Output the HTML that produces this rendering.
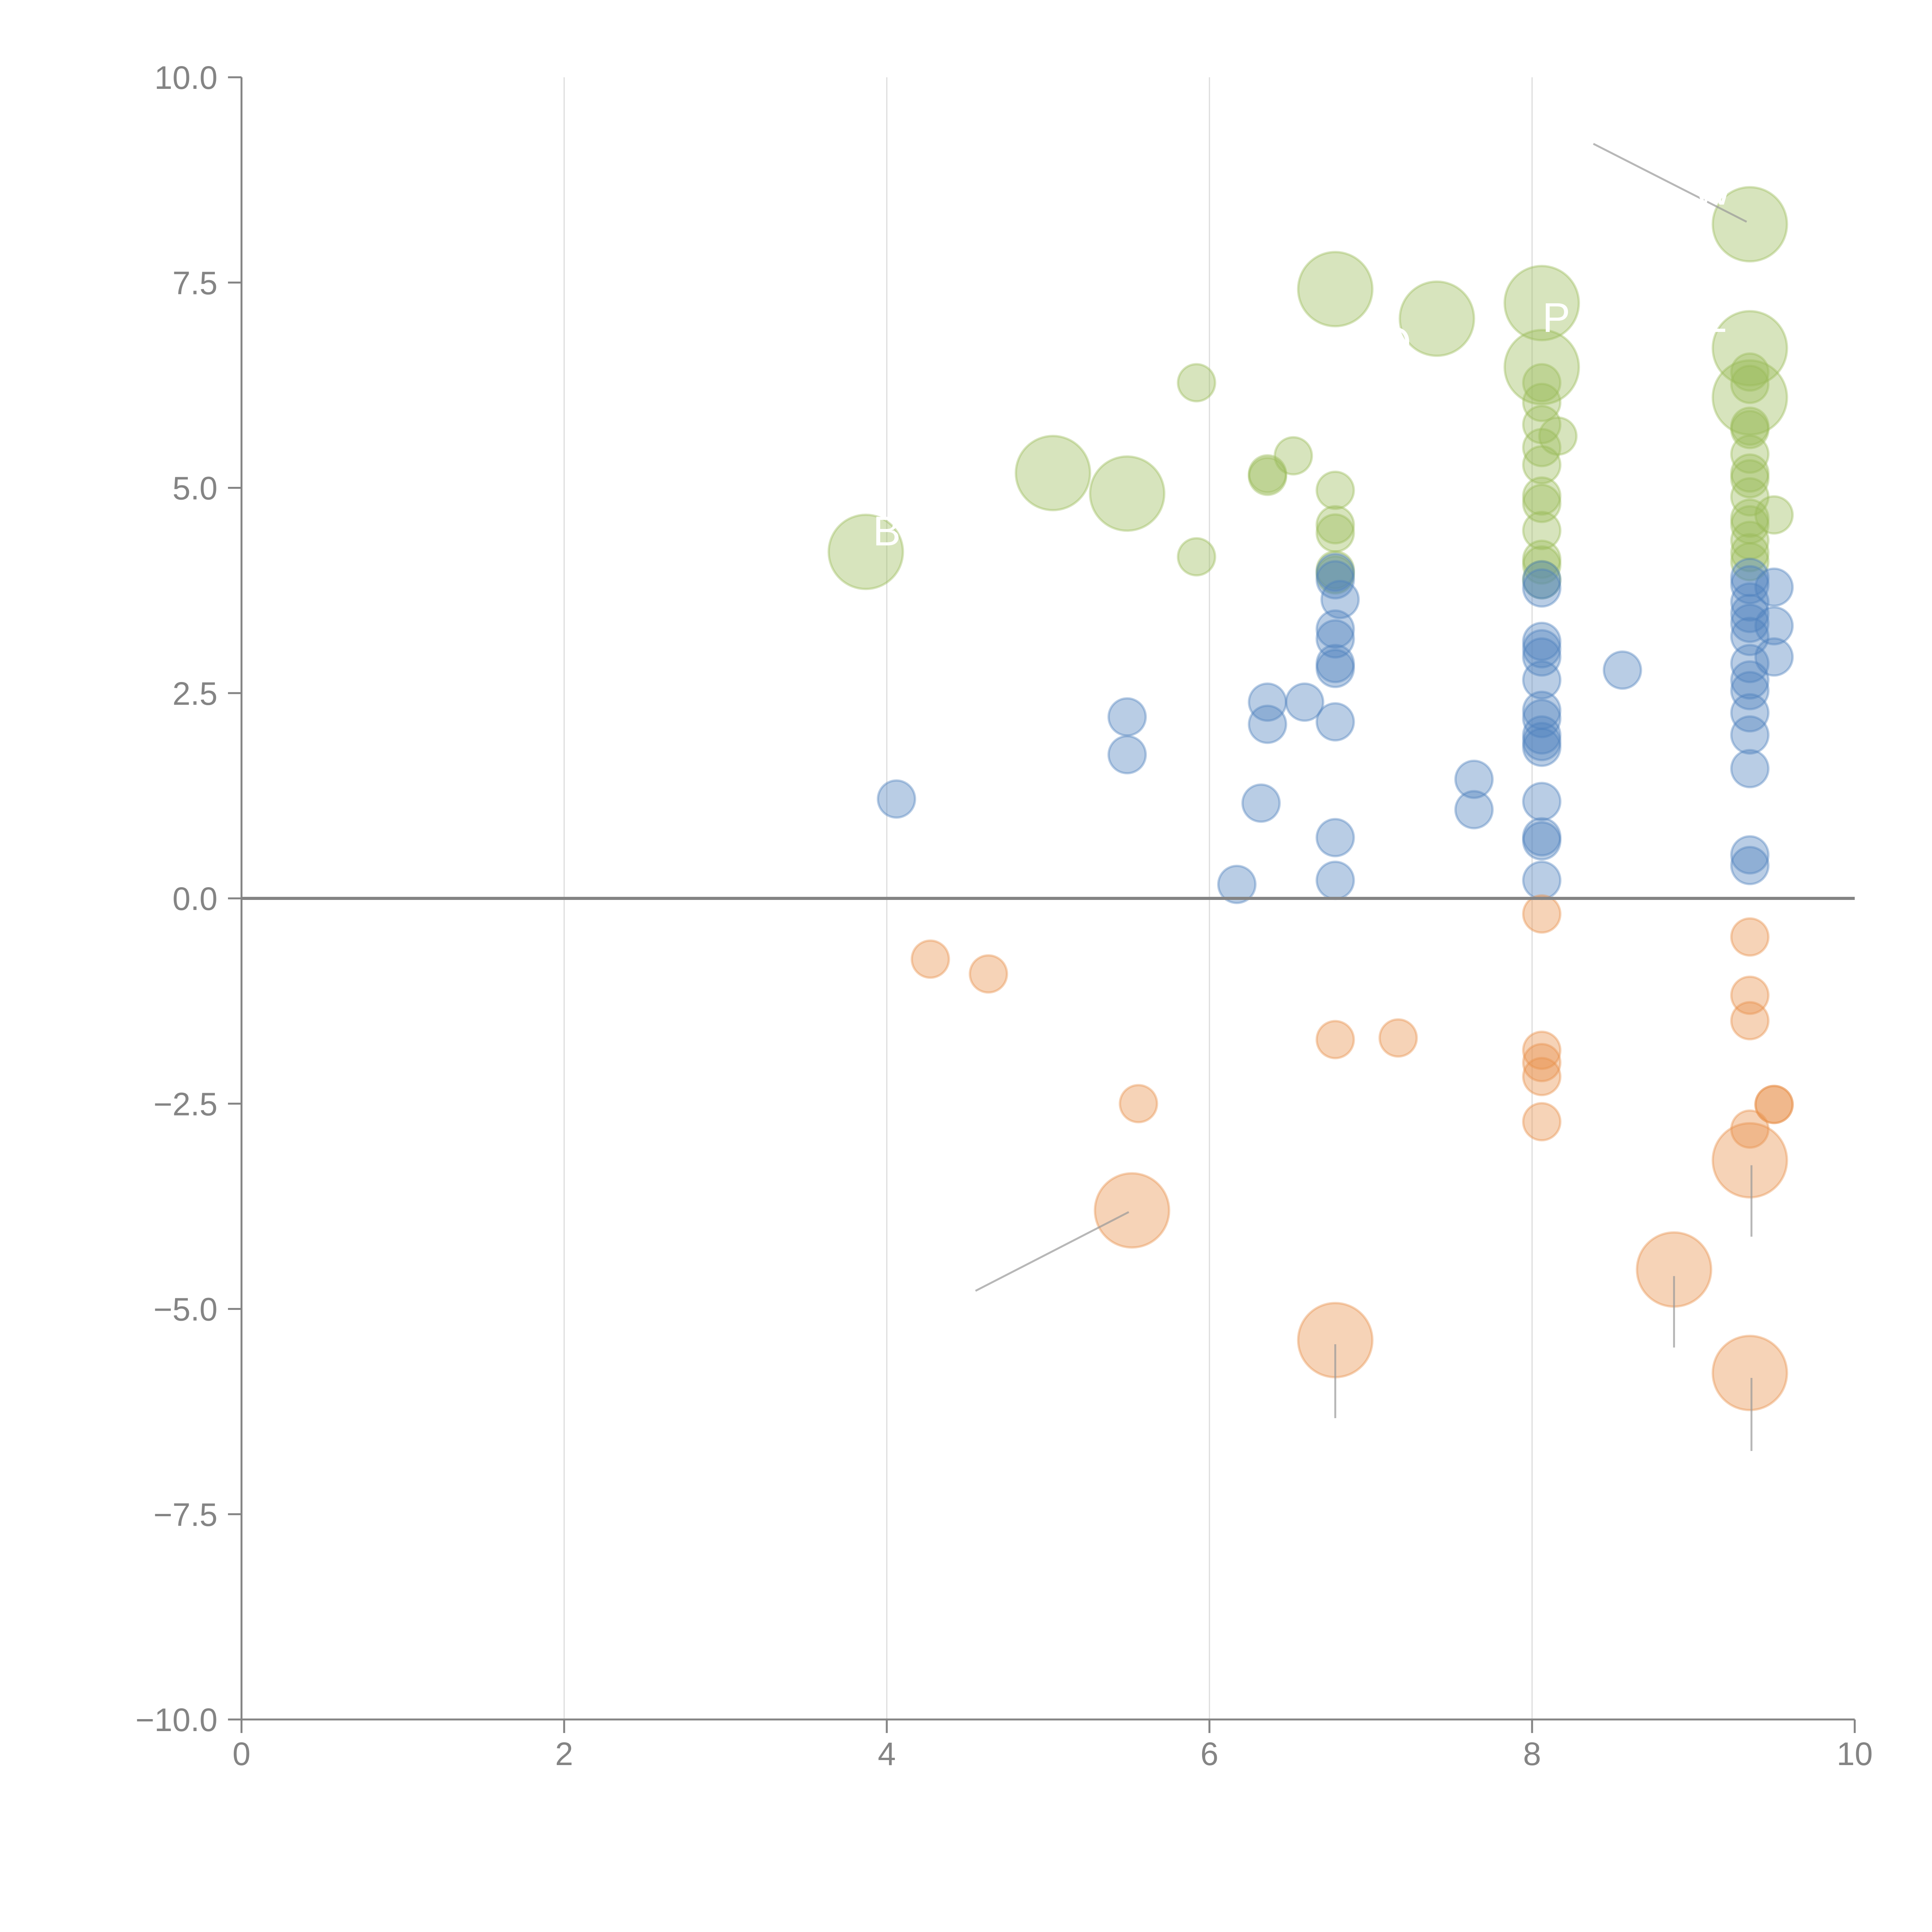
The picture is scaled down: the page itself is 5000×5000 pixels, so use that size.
<!DOCTYPE html>
<html><head><meta charset="utf-8"><style>
html,body{margin:0;padding:0;background:#fff;width:5000px;height:5000px;overflow:hidden}
svg{display:block}
text{font-family:"Liberation Sans",Arial,sans-serif;fill:#848484}
</style></head><body>
<svg id="chart" width="5000" height="5000" viewBox="0 0 5000 5000" xmlns="http://www.w3.org/2000/svg">
<g id="grid"></g>
<g id="marks"></g>
<g id="axes"></g>
</svg>
<script>
const xTicks=[0,2,4,6,8,10];
const yTicks=[10,7.5,5,2.5,0,-2.5,-5,-7.5,-10];
const yTickLabels=["10.0","7.5","5.0","2.5","0.0","\u22122.5","\u22125.0","\u22127.5","\u221210.0"];
const greenBigX=[3.87,5.03,5.49,6.78,7.41,8.06,8.06,9.35,9.35,9.35];
const greenBigY=[4.22,5.18,4.93,7.42,7.06,7.25,6.47,8.21,6.70,6.10];
const greenX=[5.92,6.36,6.36,6.52,5.92,6.78,6.78,6.78,6.78,6.78,8.06,8.06,8.06,8.06,8.06,8.06,8.06,8.06,8.06,8.06,8.06,8.16,9.35,9.35,9.35,9.35,9.35,9.35,9.35,9.35,9.35,9.35,9.35,9.35,9.35,9.50];
const greenY=[6.28,5.17,5.14,5.39,4.16,4.97,4.55,4.45,4.00,3.94,6.28,6.04,5.77,5.49,5.28,4.90,4.81,4.48,4.13,4.06,3.88,5.63,6.41,6.26,5.75,5.71,5.41,5.18,5.11,4.89,4.63,4.55,4.36,4.21,4.10,4.67];
const blueX=[4.06,5.49,5.49,6.36,6.36,6.59,6.32,6.17,6.78,6.78,6.81,6.78,6.78,6.78,6.78,6.78,6.78,6.78,7.64,7.64,8.56,8.06,8.06,8.06,8.06,8.06,8.06,8.06,8.06,8.06,8.06,8.06,8.06,8.06,8.06,8.06,9.35,9.35,9.35,9.35,9.35,9.35,9.35,9.35,9.35,9.35,9.35,9.35,9.35,9.35,9.50,9.50,9.50];
const blueY=[1.21,2.21,1.75,2.39,2.12,2.39,1.16,0.17,3.97,3.88,3.64,3.28,3.16,2.86,2.80,2.15,0.74,0.22,1.45,1.08,2.78,3.88,3.78,3.13,3.04,2.94,2.66,2.29,2.19,1.99,1.91,1.84,1.18,0.75,0.70,0.22,3.91,3.82,3.61,3.47,3.35,3.19,2.86,2.66,2.53,2.26,1.99,1.58,0.53,0.40,3.79,3.32,2.94];
const orangeX=[4.27,4.63,5.56,6.78,7.17,8.06,8.06,8.06,8.06,8.06,9.35,9.35,9.35,9.35,9.50,9.50];
const orangeY=[-0.74,-0.92,-2.50,-1.72,-1.70,-0.19,-1.85,-2.00,-2.17,-2.72,-0.47,-1.18,-1.49,-2.81,-2.51,-2.51];
const orangeBigX=[5.52,6.78,8.88,9.35,9.35];
const orangeBigY=[-3.80,-5.38,-4.52,-3.19,-5.78];
const leaderX1=[8.38,4.55,9.36,8.88,6.78,9.36];
const leaderY1=[9.19,-4.78,-3.25,-4.60,-5.43,-5.84];
const leaderX2=[9.33,5.50,9.36,8.88,6.78,9.36];
const leaderY2=[8.24,-3.82,-4.12,-5.47,-6.33,-6.73];
const labelText=["B","W","P","LE","O"];
const labelX=[4.0,9.12,8.15,9.05,7.15];
const labelY=[4.3,8.45,6.9,6.9,6.6];

const NS="http://www.w3.org/2000/svg";
const X0=625,X1=4800,Y0=4450,Y1=200;
function sx(v){return X0+(v-0)/(10-0)*(X1-X0);}
function sy(v){return Y0-(v+10)/20*(Y0-Y1);}
function mk(tag,attrs,parent){const e=document.createElementNS(NS,tag);for(const k in attrs)e.setAttribute(k,attrs[k]);parent.appendChild(e);return e;}
const grid=document.getElementById('grid'),marks=document.getElementById('marks'),axes=document.getElementById('axes');

xTicks.forEach((t,i)=>{
  if(t>0&&t<10){const l=mk('line',{x1:sx(t),x2:sx(t),y1:Y1,y2:Y0,stroke:'#dcdcdc','stroke-width':3},grid);
  
  }
  const tk=mk('line',{x1:sx(t),x2:sx(t),y1:Y0,y2:Y0+35,stroke:'#848484','stroke-width':5},axes);
  
  
  const tx=mk('text',{x:sx(t),y:Y0+118,'font-size':84,'text-anchor':'middle'},axes);
  tx.textContent=String(t);
  
  
});
yTicks.forEach((t,i)=>{
  const tk=mk('line',{x1:X0-35,x2:X0,y1:sy(t),y2:sy(t),stroke:'#848484','stroke-width':5},axes);
  
  
  const tx=mk('text',{x:X0-62,y:sy(t)+30,'font-size':84,'text-anchor':'end'},axes);
  tx.textContent=yTickLabels[i];
  
  
});
const ya=mk('line',{x1:X0,x2:X0,y1:Y1,y2:Y0,stroke:'#848484','stroke-width':5},axes);


const xa=mk('line',{x1:X0,x2:X1,y1:Y0,y2:Y0,stroke:'#848484','stroke-width':5},axes);



function series(xs,ys,r,color,name){
  xs.forEach((x,i)=>{
    const c=mk('circle',{cx:sx(x),cy:sy(ys[i]),r:r,fill:color,'fill-opacity':0.4,stroke:color,'stroke-opacity':0.4,'stroke-width':6},marks);
    
    
  });
}
series(greenX,greenY,48,'#9bbb59','green-bubble');
series(greenBigX,greenBigY,96,'#9bbb59','green-bubble-large');
series(blueX,blueY,48,'#4f81bd','blue-bubble');
series(orangeX,orangeY,48,'#e8914b','orange-bubble');
series(orangeBigX,orangeBigY,96,'#e8914b','orange-bubble-large');

leaderX1.forEach((x,i)=>{
  const l=mk('line',{x1:sx(x),y1:sy(leaderY1[i]),x2:sx(leaderX2[i]),y2:sy(leaderY2[i]),stroke:'#999','stroke-opacity':0.7,'stroke-width':5},marks);
  
  
});
labelText.forEach((t,i)=>{
  const tx=mk('text',{x:sx(labelX[i]),y:sy(labelY[i]),'font-size':108,'text-anchor':'middle',style:'fill:#fff'},marks);
  tx.textContent=t;
  
  
});
const z=mk('line',{x1:X0,x2:X1,y1:sy(0),y2:sy(0),stroke:'#848484','stroke-width':8},axes);


</script>
</body></html>
